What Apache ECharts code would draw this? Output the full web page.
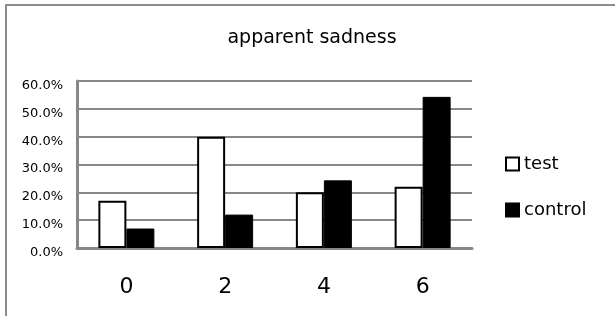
<!DOCTYPE html>
<html>
<head>
<meta charset="utf-8">
<script src="https://cdn.jsdelivr.net/npm/echarts@6/dist/echarts.min.js"></script>
<style>
  html, body { margin: 0; padding: 0; background: #fff; }
  #chart { width: 615px; height: 316px; }
</style>
</head>
<body>
<div id="chart"></div>
<script>
// apparent sadness, test vs control
var categories = ['0', '2', '4', '6'];
var testValues = [0.17, 0.40, 0.20, 0.22];
var controlValues = [0.07, 0.12, 0.243, 0.543];
var yTicks = [0, 0.1, 0.2, 0.3, 0.4, 0.5, 0.6];

var chart = echarts.init(document.getElementById('chart'));

var option = {
    backgroundColor: '#fff',
    animation: false,
    textStyle: { fontFamily: 'DejaVu Sans' },
    graphic: [{
        type: 'rect',
        shape: { x: 6, y: 5, width: 640, height: 340 },
        style: { fill: 'none', stroke: '#8c8c8c', lineWidth: 2 },
        silent: true
    }],
    title: {
        text: 'apparent sadness',
        left: 312,
        textAlign: 'center',
        top: 29,
        padding: 0,
        textStyle: { fontSize: 19, fontWeight: 'normal', color: '#000', fontFamily: 'DejaVu Sans' }
    },
    legend: {
        orient: 'vertical',
        left: 505,
        top: 155,
        padding: 0,
        itemWidth: 13,
        itemHeight: 13,
        itemGap: 28,
        icon: 'rect',
        textStyle: { fontSize: 18, color: '#000', fontFamily: 'DejaVu Sans' },
        data: ['test', 'control']
    },
    grid: { left: 77, top: 81, width: 395, height: 167 },
    xAxis: {
        type: 'category',
        data: categories,
        axisTick: { show: false },
        axisLine: { lineStyle: { color: '#888', width: 3 } },
        axisLabel: { fontSize: 22, color: '#000', margin: 28 }
    },
    yAxis: {
        type: 'value',
        min: yTicks[0],
        max: yTicks[yTicks.length - 1],
        interval: 0.1,
        axisLine: { show: true, lineStyle: { color: '#888', width: 3 } },
        axisTick: { show: false },
        splitLine: { lineStyle: { color: '#888', width: 2 } },
        axisLabel: {
            fontSize: 13,
            color: '#000',
            margin: 14,
            verticalAlign: 'top',
            lineHeight: 9,
            formatter: function (v) { return (v * 100).toFixed(1) + '%'; }
        }
    },
    series: [{
        name: 'test',
        type: 'bar',
        data: testValues,
        barWidth: 28,
        barGap: '0%',
        itemStyle: { color: '#fff', borderColor: '#000', borderWidth: 2 }
    }, {
        name: 'control',
        type: 'bar',
        data: controlValues,
        barWidth: 28,
        itemStyle: { color: '#000', borderColor: '#000', borderWidth: 1 }
    }]
};

chart.setOption(option);
</script>
</body>
</html>
